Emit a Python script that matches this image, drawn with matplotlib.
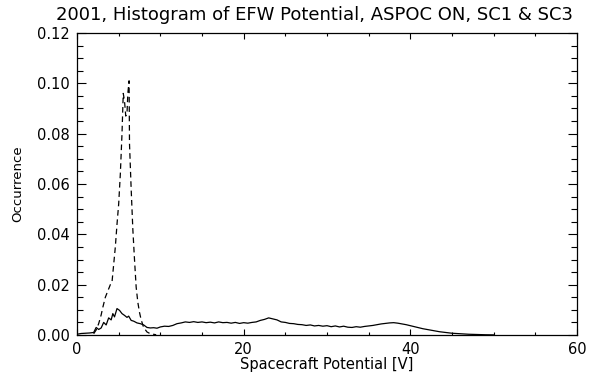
import matplotlib
matplotlib.use("Agg")
import matplotlib.pyplot as plt
from matplotlib.ticker import MultipleLocator

# --- data ---
solid_x = [0.0, 0.5, 1.0, 1.5, 2.0, 2.3, 2.6, 2.9, 3.2, 3.5, 3.8, 4.1, 4.3, 4.5,
           4.8, 5.1, 5.4, 5.7, 6.0, 6.2, 6.5, 6.8, 7.2, 7.6, 8.0, 8.4, 8.8, 9.2,
           9.6, 10.0, 10.5, 11.0, 11.5, 12.0, 12.5, 13.0, 13.5, 14.0, 14.5, 15.0,
           15.5, 16.0, 16.5, 17.0, 17.5, 18.0, 18.5, 19.0, 19.5, 20.0, 20.5, 21.0,
           21.5, 22.0, 22.5, 23.0, 23.5, 24.0, 24.5, 25.0, 25.5, 26.0, 26.5, 27.0,
           27.5, 28.0, 28.5, 29.0, 29.5, 30.0, 30.5, 31.0, 31.5, 32.0, 32.5, 33.0,
           33.5, 34.0, 34.5, 35.0, 35.5, 36.0, 36.5, 37.0, 37.5, 38.0, 38.5, 39.0,
           39.5, 40.0, 40.5, 41.0, 41.5, 42.0, 42.5, 43.0, 43.5, 44.0, 44.5, 45.0,
           46.0, 47.0, 48.0, 49.0, 50.0]
solid_y = [0.0003, 0.0006, 0.0007, 0.0008, 0.0010, 0.0030, 0.0022, 0.0028, 0.0050,
           0.0040, 0.0068, 0.0060, 0.0085, 0.0072, 0.0105, 0.0098, 0.0085, 0.0078,
           0.0070, 0.0075, 0.0058, 0.0055, 0.0048, 0.0045, 0.0040, 0.0030, 0.0028,
           0.0029, 0.0027, 0.0032, 0.0035, 0.0034, 0.0038, 0.0045, 0.0048, 0.0052,
           0.0050, 0.0053, 0.0050, 0.0052, 0.0049, 0.0051, 0.0048, 0.0052, 0.0049,
           0.0050, 0.0047, 0.0050, 0.0046, 0.0049, 0.0047, 0.0050, 0.0052, 0.0058,
           0.0062, 0.0068, 0.0064, 0.0060, 0.0052, 0.0050, 0.0046, 0.0045, 0.0042,
           0.0041, 0.0038, 0.0040, 0.0036, 0.0038, 0.0035, 0.0037, 0.0033, 0.0036,
           0.0032, 0.0035, 0.0031, 0.0030, 0.0033, 0.0031, 0.0034, 0.0036, 0.0038,
           0.0041, 0.0044, 0.0046, 0.0048, 0.0049, 0.0047, 0.0044, 0.0041, 0.0037,
           0.0033, 0.0029, 0.0025, 0.0022, 0.0019, 0.0016, 0.0013, 0.0011, 0.0009,
           0.0007, 0.0005, 0.0003, 0.0002, 0.0001, 0.00005]

dashed_x = [2.0, 2.3, 2.6, 2.9, 3.1, 3.4, 3.7, 4.0, 4.2, 4.4, 4.6, 4.8, 5.0, 5.2,
            5.4, 5.55, 5.7, 5.85, 6.0, 6.1, 6.25, 6.3, 6.5, 6.7, 6.9, 7.1, 7.3,
            7.5, 7.7, 8.0, 8.4, 8.8, 9.5]
dashed_y = [0.0005, 0.0020, 0.0045, 0.0080, 0.0110, 0.0150, 0.0175, 0.0200, 0.0210,
            0.0280, 0.0350, 0.0440, 0.0520, 0.0640, 0.0800, 0.0960, 0.0930, 0.0870,
            0.0880, 0.0960, 0.1010, 0.0760, 0.0580, 0.0420, 0.0300, 0.0190, 0.0130,
            0.0090, 0.0060, 0.0030, 0.0012, 0.0005, 0.0001]

title = "2001, Histogram of EFW Potential, ASPOC ON, SC1 & SC3"

# --- figure ---
fig = plt.figure(figsize=(6.15, 3.76), dpi=100)
ax = fig.add_axes([77 / 615, 1 - 335 / 376, 500 / 615, 302 / 376])

ax.plot(solid_x, solid_y, color="black", lw=0.9)
ax.plot(dashed_x, dashed_y, color="black", lw=0.9, linestyle=(0, (4.5, 3)))

ax.set_xlim(0, 60)
ax.set_ylim(0, 0.12)
ax.xaxis.set_major_locator(MultipleLocator(20))
ax.xaxis.set_minor_locator(MultipleLocator(5))
ax.yaxis.set_major_locator(MultipleLocator(0.02))
ax.yaxis.set_minor_locator(MultipleLocator(0.005))
ax.yaxis.set_major_formatter(plt.FuncFormatter(lambda v, p: "%.2f" % v))

ax.tick_params(axis="both", which="both", direction="in", top=True, right=True,
               width=0.8, labelsize=10.5)
ax.tick_params(axis="x", which="major", length=4, pad=5)
ax.tick_params(axis="x", which="minor", length=2.5)
ax.tick_params(axis="y", which="major", length=6.5, pad=5)
ax.tick_params(axis="y", which="minor", length=4)
for s in ax.spines.values():
    s.set_linewidth(0.9)

ax.set_xlabel("Spacecraft Potential [V]", fontsize=10.5, labelpad=0)
ax.set_ylabel("Occurrence", fontsize=9.5, labelpad=9)
ax.set_title(title, fontsize=13, pad=9, x=0.475)

fig.savefig("out.png", dpi=100)
